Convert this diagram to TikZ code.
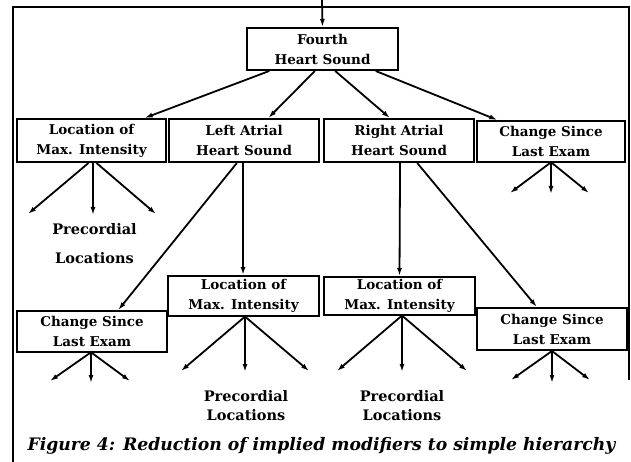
\documentclass[tikz,border=0pt]{standalone}
\usepackage{fontspec}
\setmainfont{DejaVu Serif}
\usetikzlibrary{calc,arrows.meta}
\tikzset{
  box/.style={draw, line width=2pt, inner sep=0pt, align=center,
    font=\fontsize{13.5}{20}\selectfont\bfseries},
  leaflabel/.style={inner sep=0pt, align=center,
    font=\fontsize{14.5}{19}\selectfont\bfseries},
  arr/.style={line width=1.8pt, -{Latex[length=8pt,width=5pt]}},
  frameline/.style={line width=1.6pt}
}
\begin{document}
\begin{tikzpicture}[x=1pt,y=-1pt]
\useasboundingbox (0,0) rectangle (631,462);
% frame
\draw[frameline] (13,462) -- (13,7) -- (629,7) -- (629,380);
% nodes
\node[box, minimum width=151pt, minimum height=42pt] (F) at (322.5,49) {Fourth\\Heart Sound};
\node[box, minimum width=149pt, minimum height=43pt] (A) at (91.5,140.5) {Location of\\Max. Intensity};
\node[box, minimum width=150pt, minimum height=43pt] (B) at (244,140.5) {Left Atrial\\Heart Sound};
\node[box, minimum width=150pt, minimum height=43pt] (C) at (399,140.5) {Right Atrial\\Heart Sound};
\node[box, minimum width=148pt, minimum height=41pt] (D) at (551,141.5) {Change Since\\Last Exam};
\node[box, minimum width=150pt, minimum height=41pt] (CL) at (92,331.5) {Change Since\\Last Exam};
\node[box, minimum width=151pt, minimum height=40pt] (LL) at (243.5,296) {Location of\\Max. Intensity};
\node[box, minimum width=151pt, minimum height=38pt] (LR) at (399.5,296) {Location of\\Max. Intensity};
\node[box, minimum width=150pt, minimum height=42pt] (CR) at (552,329) {Change Since\\Last Exam};
% leaf labels
\node[leaflabel] (P1) at (94.5,243.5) {Precordial\\[10pt]Locations};
\node[leaflabel] (P2) at (246,405.5) {Precordial\\Locations};
\node[leaflabel] (P3) at (402,405.5) {Precordial\\Locations};
% caption
\node[inner sep=0pt, font=\fontsize{17.2}{20}\selectfont\bfseries\itshape] (cap) at (321.5,446)
  {Figure 4: Reduction of implied modifiers to simple hierarchy};
% incoming arrow
\coordinate (top) at (322,0);
\draw[arr] (top) -- (F.north);
% tree connectors
\draw[arr] ($(F.south west)!0.152!(F.south east)$) -- ($(A.north west)!0.852!(A.north east)$);
\draw[arr] ($(F.south west)!0.45!(F.south east)$) -- ($(B.north west)!0.66!(B.north east)$);
\draw[arr] ($(F.south west)!0.583!(F.south east)$) -- ($(C.north west)!0.44!(C.north east)$);
\draw[arr] ($(F.south west)!0.848!(F.south east)$) -- ($(D.north west)!0.142!(D.north east)$);
\draw[arr] ($(B.south west)!0.453!(B.south east)$) -- ($(CL.north west)!0.673!(CL.north east)$);
\draw[arr] ($(B.south west)!0.493!(B.south east)$) -- ($(LL.north west)!0.497!(LL.north east)$);
\draw[arr] ($(C.south west)!0.507!(C.south east)$) -- ($(LR.north west)!0.5!(LR.north east)$);
\draw[arr] ($(C.south west)!0.62!(C.south east)$) -- ($(CR.north west)!0.4!(CR.north east)$);
% leaf arrows (free ends)
\coordinate (a1) at (28,214); \coordinate (a2) at (93,215); \coordinate (a3) at (156,214);
\draw[arr] ($(A.south)+(-3,0)$) -- (a1);
\draw[arr] ($(A.south)+(1.5,0)$) -- (a2);
\draw[arr] ($(A.south)+(5,0)$) -- (a3);
\coordinate (d1) at (510,193); \coordinate (d2) at (551,194); \coordinate (d3) at (589,193);
\draw[arr] ($(D.south)+(-1,0)$) -- (d1);
\draw[arr] (D.south) -- (d2);
\draw[arr] ($(D.south)+(1,0)$) -- (d3);
\coordinate (c1) at (50,381); \coordinate (c2) at (91,383); \coordinate (c3) at (130,381);
\draw[arr] ($(CL.south)+(-2,0)$) -- (c1);
\draw[arr] ($(CL.south)+(-1,0)$) -- (c2);
\draw[arr] ($(CL.south)+(0,0)$) -- (c3);
\coordinate (r1) at (511,380); \coordinate (r2) at (552,383); \coordinate (r3) at (590,380);
\draw[arr] (CR.south) -- (r1);
\draw[arr] (CR.south) -- (r2);
\draw[arr] (CR.south) -- (r3);
\coordinate (l1) at (181,371); \coordinate (l2) at (245,372); \coordinate (l3) at (309,371);
\draw[arr] ($(LL.south)+(1,0)$) -- (l1);
\draw[arr] ($(LL.south)+(1.5,0)$) -- (l2);
\draw[arr] ($(LL.south)+(2,0)$) -- (l3);
\coordinate (m1) at (337,371); \coordinate (m2) at (402,372); \coordinate (m3) at (467,371);
\draw[arr] ($(LR.south)+(2,0)$) -- (m1);
\draw[arr] ($(LR.south)+(2.5,0)$) -- (m2);
\draw[arr] ($(LR.south)+(3,0)$) -- (m3);
\end{tikzpicture}
\end{document}
